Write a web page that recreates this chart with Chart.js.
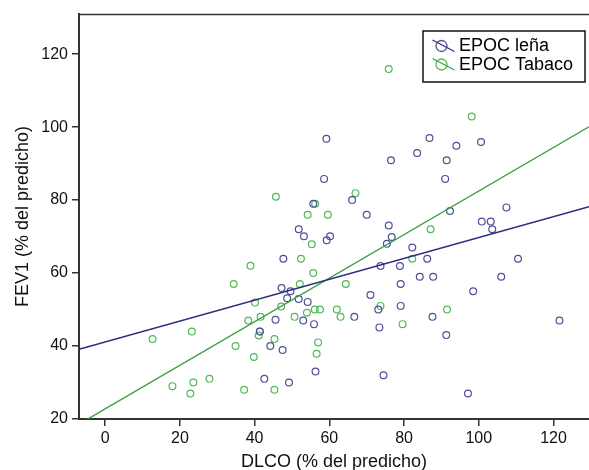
<!DOCTYPE html>
<html>
<head>
<meta charset="utf-8">
<script src="https://cdn.jsdelivr.net/npm/chart.js@4/dist/chart.umd.min.js"></script>
<style>
html,body{margin:0;padding:0;background:#fff;}
#wrap{width:589px;height:470px;position:relative;}
</style>
</head>
<body>
<div id="wrap"><canvas id="c" width="589" height="470"></canvas></div>
<script>
// ---- data ----
const seriesNames = ["EPOC leña", "EPOC Tabaco"];

const lenaDLCO = [59.2, 86.8, 94.0, 100.6, 83.5, 91.4, 76.5, 91.0, 58.6, 66.1, 55.7, 70.0, 107.4, 92.3, 100.8, 103.2, 103.6, 75.9, 51.8, 53.2, 59.3, 60.2, 76.7, 75.4, 82.2, 47.7, 86.2, 110.5, 73.7, 78.9, 84.2, 87.8, 106.0, 79.1, 47.2, 49.6, 98.5, 71.0, 48.7, 51.8, 54.2, 79.1, 73.1, 87.6, 66.7, 45.6, 53.0, 121.6, 55.9, 73.4, 41.4, 91.3, 44.2, 47.5, 56.3, 74.5, 42.6, 49.2, 97.1];
const lenaFEV1 = [96.8, 97.0, 94.9, 95.9, 92.9, 90.9, 90.9, 85.8, 85.8, 80.0, 79.0, 76.0, 78.0, 77.0, 74.1, 74.1, 72.0, 73.0, 72.0, 70.1, 69.0, 70.1, 69.9, 68.0, 67.0, 63.9, 63.9, 63.9, 61.9, 61.9, 59.0, 59.0, 59.0, 57.0, 55.9, 55.0, 55.0, 54.0, 53.1, 52.9, 52.1, 51.0, 50.0, 48.0, 48.0, 47.2, 47.0, 47.0, 46.0, 45.1, 44.0, 43.0, 40.0, 38.9, 33.0, 32.0, 31.0, 30.0, 27.0];

const tabacoDLCO = [75.9, 98.1, 45.7, 67.0, 56.2, 54.2, 59.6, 55.3, 87.1, 52.4, 82.2, 38.9, 55.7, 34.4, 52.1, 64.4, 40.1, 47.1, 73.7, 56.1, 57.5, 62.0, 91.5, 54.0, 41.6, 50.7, 63.0, 38.3, 79.6, 23.2, 41.4, 41.1, 12.7, 45.3, 57.0, 34.9, 56.6, 39.8, 27.9, 23.6, 18.0, 37.2, 45.3, 22.8];
const tabacoFEV1 = [115.9, 102.9, 80.9, 81.9, 79.0, 76.0, 76.0, 67.9, 72.0, 63.9, 63.9, 62.0, 60.0, 57.0, 57.0, 57.0, 51.9, 50.8, 51.0, 50.0, 50.0, 50.0, 50.0, 49.1, 48.0, 48.0, 48.0, 47.0, 46.0, 44.0, 44.0, 42.9, 41.9, 41.9, 41.0, 40.0, 37.9, 37.0, 31.0, 30.0, 29.0, 28.0, 28.0, 27.0];

// fitted lines: end points
const lenaFitX = [-7, 129.5];
const lenaFitY = [39.1, 78.2];
const tabacoFitX = [-7, 129.5];
const tabacoFitY = [18.6, 100.1];

const xTicks = [0, 20, 40, 60, 80, 100, 120];
const yTicks = [20, 40, 60, 80, 100, 120];

// ---- styling ----
const BLUE = '#4f4f94';
const BLUE_LINE = '#2c2c7e';
const GREEN = '#4fba55';
const GREEN_LINE = '#3a9f3e';
const FONT = '"Liberation Sans", Arial, Helvetica, sans-serif';

const pts = (xs, ys) => xs.map((x, i) => ({x: x, y: ys[i]}));

const frameAndLegend = {
  id: 'frameAndLegend',
  afterDraw(chart) {
    const ctx = chart.ctx;
    const a = chart.chartArea;
    ctx.save();
    // top frame line
    ctx.strokeStyle = '#333';
    ctx.lineWidth = 1.5;
    ctx.beginPath();
    ctx.moveTo(a.left, a.top + 0.5);
    ctx.lineTo(a.right, a.top + 0.5);
    ctx.stroke();

    // legend
    const bx = 423, by = 31, bw = 162, bh = 51;
    ctx.fillStyle = '#fff';
    ctx.fillRect(bx, by, bw, bh);
    ctx.strokeStyle = '#111';
    ctx.lineWidth = 1.5;
    ctx.strokeRect(bx, by, bw, bh);
    const items = [
      {ds: chart.data.datasets[0], cy: 46},
      {ds: chart.data.datasets[1], cy: 64.5}
    ];
    items.forEach(it => {
      const cx = 441.5;
      ctx.strokeStyle = it.ds.borderColor;
      ctx.lineWidth = 1.3;
      ctx.beginPath();
      ctx.arc(cx, it.cy, 5.5, 0, Math.PI * 2);
      ctx.stroke();
      ctx.strokeStyle = it.ds.lineColor;
      ctx.lineWidth = 1.2;
      ctx.beginPath();
      ctx.moveTo(cx - 9, it.cy - 6);
      ctx.lineTo(cx + 13, it.cy + 5.5);
      ctx.stroke();
      ctx.fillStyle = '#000';
      ctx.font = '18px ' + FONT;
      ctx.textBaseline = 'middle';
      ctx.textAlign = 'left';
      ctx.fillText(it.ds.label, 459, it.cy + 0.5);
    });
    ctx.restore();
  }
};

new Chart(document.getElementById('c'), {
  type: 'scatter',
  data: {
    datasets: [
      {
        label: seriesNames[0],
        data: pts(lenaDLCO, lenaFEV1),
        borderColor: BLUE,
        lineColor: BLUE_LINE,
        backgroundColor: 'rgba(0,0,0,0)',
        pointRadius: 3.4,
        pointBorderWidth: 1.2,
        order: 2
      },
      {
        label: seriesNames[1],
        data: pts(tabacoDLCO, tabacoFEV1),
        borderColor: GREEN,
        lineColor: GREEN_LINE,
        backgroundColor: 'rgba(0,0,0,0)',
        pointRadius: 3.4,
        pointBorderWidth: 1.2,
        order: 2
      },
      {
        type: 'line',
        label: 'fit leña',
        data: pts(lenaFitX, lenaFitY),
        borderColor: BLUE_LINE,
        borderWidth: 1.4,
        pointRadius: 0,
        fill: false,
        order: 1
      },
      {
        type: 'line',
        label: 'fit tabaco',
        data: pts(tabacoFitX, tabacoFitY),
        borderColor: GREEN_LINE,
        borderWidth: 1.4,
        pointRadius: 0,
        fill: false,
        order: 1
      }
    ]
  },
  options: {
    responsive: false,
    animation: false,
    devicePixelRatio: 1,
    layout: {autoPadding: false, padding: {top: 14, right: 0, left: 0, bottom: 0}},
    plugins: {legend: {display: false}, tooltip: {enabled: false}},
    scales: {
      x: {
        type: 'linear',
        min: -7,
        max: 129.5,
        afterBuildTicks: s => { s.ticks = xTicks.map(v => ({value: v})); },
        afterFit: s => { s.height = 51; s.paddingRight = 0; s.paddingLeft = 0; },
        ticks: {font: {size: 16, family: FONT}, color: '#111', padding: 3, maxRotation: 0},
        grid: {drawOnChartArea: false, tickLength: 7, color: '#333', lineWidth: 1.5},
        border: {color: '#333', width: 2},
        title: {display: true, text: 'DLCO (% del predicho)', color: '#111',
                font: {size: 18, family: FONT}, padding: {top: 0, bottom: -3}}
      },
      y: {
        type: 'linear',
        min: 20,
        max: 131,
        afterBuildTicks: s => { s.ticks = yTicks.map(v => ({value: v})); },
        afterFit: s => { s.width = 79; s.paddingTop = 0; s.paddingBottom = 0; },
        ticks: {font: {size: 16, family: FONT}, color: '#111', padding: 4},
        grid: {drawOnChartArea: false, tickLength: 7, color: '#333', lineWidth: 1.5},
        border: {color: '#333', width: 2},
        title: {display: true, text: 'FEV1 (% del predicho)', color: '#111',
                font: {size: 18, family: FONT}, padding: {top: 12, bottom: 0}}
      }
    }
  },
  plugins: [frameAndLegend]
});
</script>
</body>
</html>
